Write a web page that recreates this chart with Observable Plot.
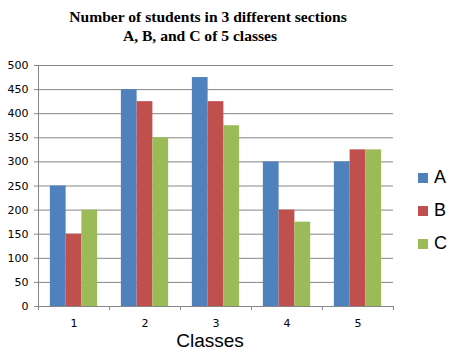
<!DOCTYPE html>
<html>
<head>
<meta charset="utf-8">
<script src="https://cdn.jsdelivr.net/npm/d3@7"></script>
<script src="https://cdn.jsdelivr.net/npm/@observablehq/plot@0.6"></script>
<style>
  html, body { margin: 0; padding: 0; background: #fff; }
  #wrap { position: relative; width: 455px; height: 356px; overflow: hidden; }
  #wrap svg { position: absolute; left: 0; top: 0; }
  .title { position: absolute; font-family: "Liberation Serif", "Times New Roman", serif; font-weight: bold; font-size: 15.6px; line-height: 18px; white-space: nowrap; color: #000; transform: translateX(-50%); }
  #legend { position: absolute; left: 418px; top: 161px; font-family: "Liberation Sans", Arial, sans-serif; font-size: 18px; color: #000; }
  #legend .item { display: flex; align-items: center; height: 33px; }
  #legend .sw { width: 10px; height: 10px; margin-right: 6px; }
</style>
</head>
<body>
<div id="wrap"></div>
<script>
const classes = [1, 2, 3, 4, 5];
const sections = ["A", "B", "C"];
const valuesA = [250, 450, 475, 300, 300];
const valuesB = [150, 425, 425, 200, 325];
const valuesC = [200, 350, 375, 175, 325];
const colors = ["#4F81BD", "#C0504D", "#9BBB59"];
const yTicks = [0, 50, 100, 150, 200, 250, 300, 350, 400, 450, 500];
const titleLines = ["Number of students in 3 different sections", "A, B, and C of 5 classes"];
const xLabel = "Classes";

const series = [valuesA, valuesB, valuesC];
const barW = 0.222;
const data = [];
classes.forEach((c, i) => {
  sections.forEach((s, j) => {
    const x1 = c - 1.5 * barW + j * barW;
    data.push({cls: c, section: s, value: series[j][i], x1, x2: x1 + barW});
  });
});
const boundaries = classes.map(c => c - 0.5).concat([classes[classes.length - 1] + 0.5]);

const grid = "#868686";
const plot = Plot.plot({
  width: 455,
  height: 356,
  marginLeft: 38,
  marginRight: 62,
  marginTop: 65,
  marginBottom: 50,
  style: {fontFamily: "DejaVu Sans, Verdana, sans-serif", fontSize: "11px", color: "#000", background: "transparent"},
  x: {domain: [boundaries[0], boundaries[boundaries.length - 1]], axis: null},
  y: {domain: [0, 500], axis: null},
  color: {domain: sections, range: colors},
  marks: [
    Plot.ruleY(yTicks, {stroke: grid, strokeWidth: 1}),
    Plot.rectY(data, {x1: "x1", x2: "x2", y1: 0, y2: "value", fill: "section"}),
    Plot.ruleX([boundaries[0]], {stroke: grid}),
    Plot.axisY({ticks: yTicks, tickSize: 4, tickPadding: 6, stroke: grid, tickFormat: d => d, fill: "#000", label: null}),
    Plot.axisX({ticks: boundaries, tickSize: 4, tickFormat: () => "", stroke: grid, label: null}),
    Plot.axisX({ticks: classes, tickSize: 0, tickPadding: 13, tickFormat: d => String(d), fill: "#000", label: null}),
    Plot.ruleY([0], {stroke: grid})
  ]
});
const wrap = document.getElementById("wrap");
wrap.appendChild(plot);

// title
const t1 = document.createElement("div");
t1.className = "title"; t1.textContent = titleLines[0];
t1.style.left = "208px"; t1.style.top = "8px";
wrap.appendChild(t1);
const t2 = document.createElement("div");
t2.className = "title"; t2.textContent = titleLines[1];
t2.style.left = "200px"; t2.style.top = "27px";
wrap.appendChild(t2);

// x label
const xl = document.createElement("div");
xl.textContent = xLabel;
xl.style.cssText = "position:absolute;left:210px;top:330px;transform:translateX(-50%);font-family:'Liberation Sans',Arial,sans-serif;font-size:19px;color:#000;white-space:nowrap;";
wrap.appendChild(xl);

// legend
const lg = document.createElement("div");
lg.id = "legend";
sections.forEach((s, i) => {
  const it = document.createElement("div");
  it.className = "item";
  const sw = document.createElement("span");
  sw.className = "sw"; sw.style.background = colors[i];
  const tx = document.createElement("span");
  tx.textContent = s;
  it.appendChild(sw); it.appendChild(tx);
  lg.appendChild(it);
});
wrap.appendChild(lg);
</script>
</body>
</html>
